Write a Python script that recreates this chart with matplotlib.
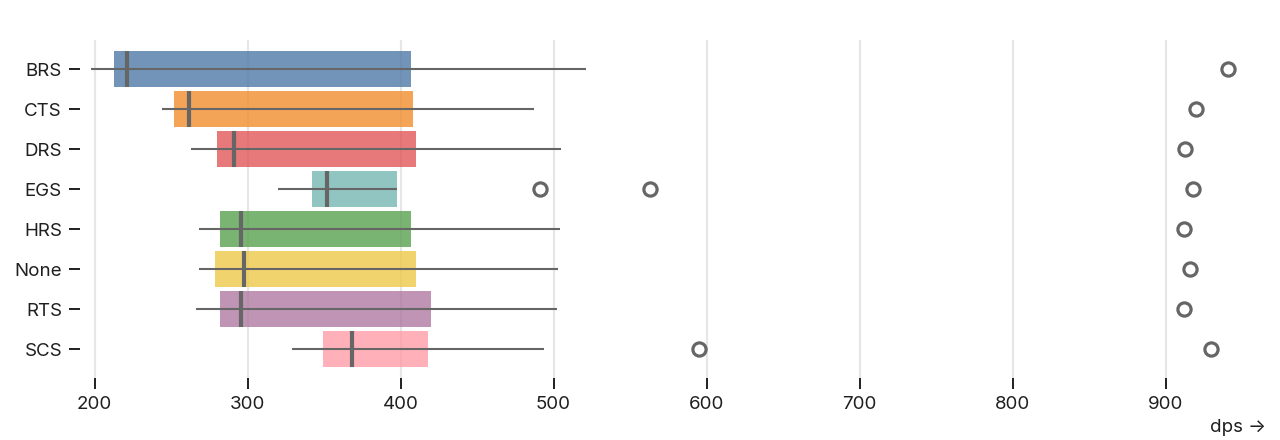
import matplotlib
matplotlib.use("Agg")
import matplotlib.pyplot as plt

plt.rcParams['font.family'] = ['Inter', 'DejaVu Sans']

# dps per group
groups = ["BRS", "CTS", "DRS", "EGS", "HRS", "None", "RTS", "SCS"]
whislo = [198, 244, 263, 320, 268, 268, 266, 329]
q1 = [213, 252, 280, 342, 282, 279, 282, 349]
med = [221, 262, 291, 352, 296, 298, 296, 368]
q3 = [407, 408, 410, 398, 407, 410, 420, 418]
whishi = [521, 487, 505, 398, 504, 503, 502, 494]
outliers = [[941], [920], [913], [491, 563, 918], [912], [916], [912], [595, 930]]
xticks = [200, 300, 400, 500, 600, 700, 800, 900]

colors = ["#4e79a7", "#f28e2c", "#e15759", "#76b7b2",
          "#59a14f", "#edc949", "#af7aa1", "#ff9da7"]
gray = "#666666"
ink = "#1f1f1f"

W, H = 1280, 440
fig = plt.figure(figsize=(W / 100, H / 100), dpi=100)
# axes box in pixels: left 80, right 1260, top 40, bottom 378
ax = fig.add_axes([80 / W, 1 - 378 / H, 1180 / W, 338 / H])

y = list(range(len(groups)))

# whiskers
ax.hlines(y, whislo, whishi, color=gray, lw=1.5, zorder=2)
# boxes
widths = [b - a for a, b in zip(q1, q3)]
ax.barh(y, widths, left=q1, height=0.9, color=colors, alpha=0.8,
        zorder=1, linewidth=0)
# medians
for yi, m in zip(y, med):
    ax.vlines(m, yi - 0.45, yi + 0.45, color=gray, lw=3, zorder=3)
# outliers
for yi, outs in zip(y, outliers):
    ax.plot(outs, [yi] * len(outs), "o", ms=9.5, mfc="white", mec=gray,
            mew=2.3, zorder=4, clip_on=False)

ax.set_xlim(190.5, 961.7)
ax.set_ylim(len(groups) - 1 + 0.725, -0.725)

ax.set_yticks(y)
ax.set_yticklabels(groups)
ax.set_xticks(xticks)
ax.set_xticklabels([str(t) for t in xticks])

ax.grid(axis="x", color="#e6e6e6", lw=1.5, zorder=0)
ax.set_axisbelow(True)
for s in ax.spines.values():
    s.set_visible(False)

ax.tick_params(axis="y", length=8, width=1.4, color=ink, pad=5,
               labelsize=13.5, labelcolor=ink)
ax.tick_params(axis="x", length=8, width=1.4, color=ink, pad=5,
               labelsize=13.5, labelcolor=ink)

fig.text(1266 / W, 1 - 427 / H, "dps →", ha="right", va="center",
         fontsize=13.5, color=ink)

fig.savefig("out.png", dpi=100, facecolor="white")
